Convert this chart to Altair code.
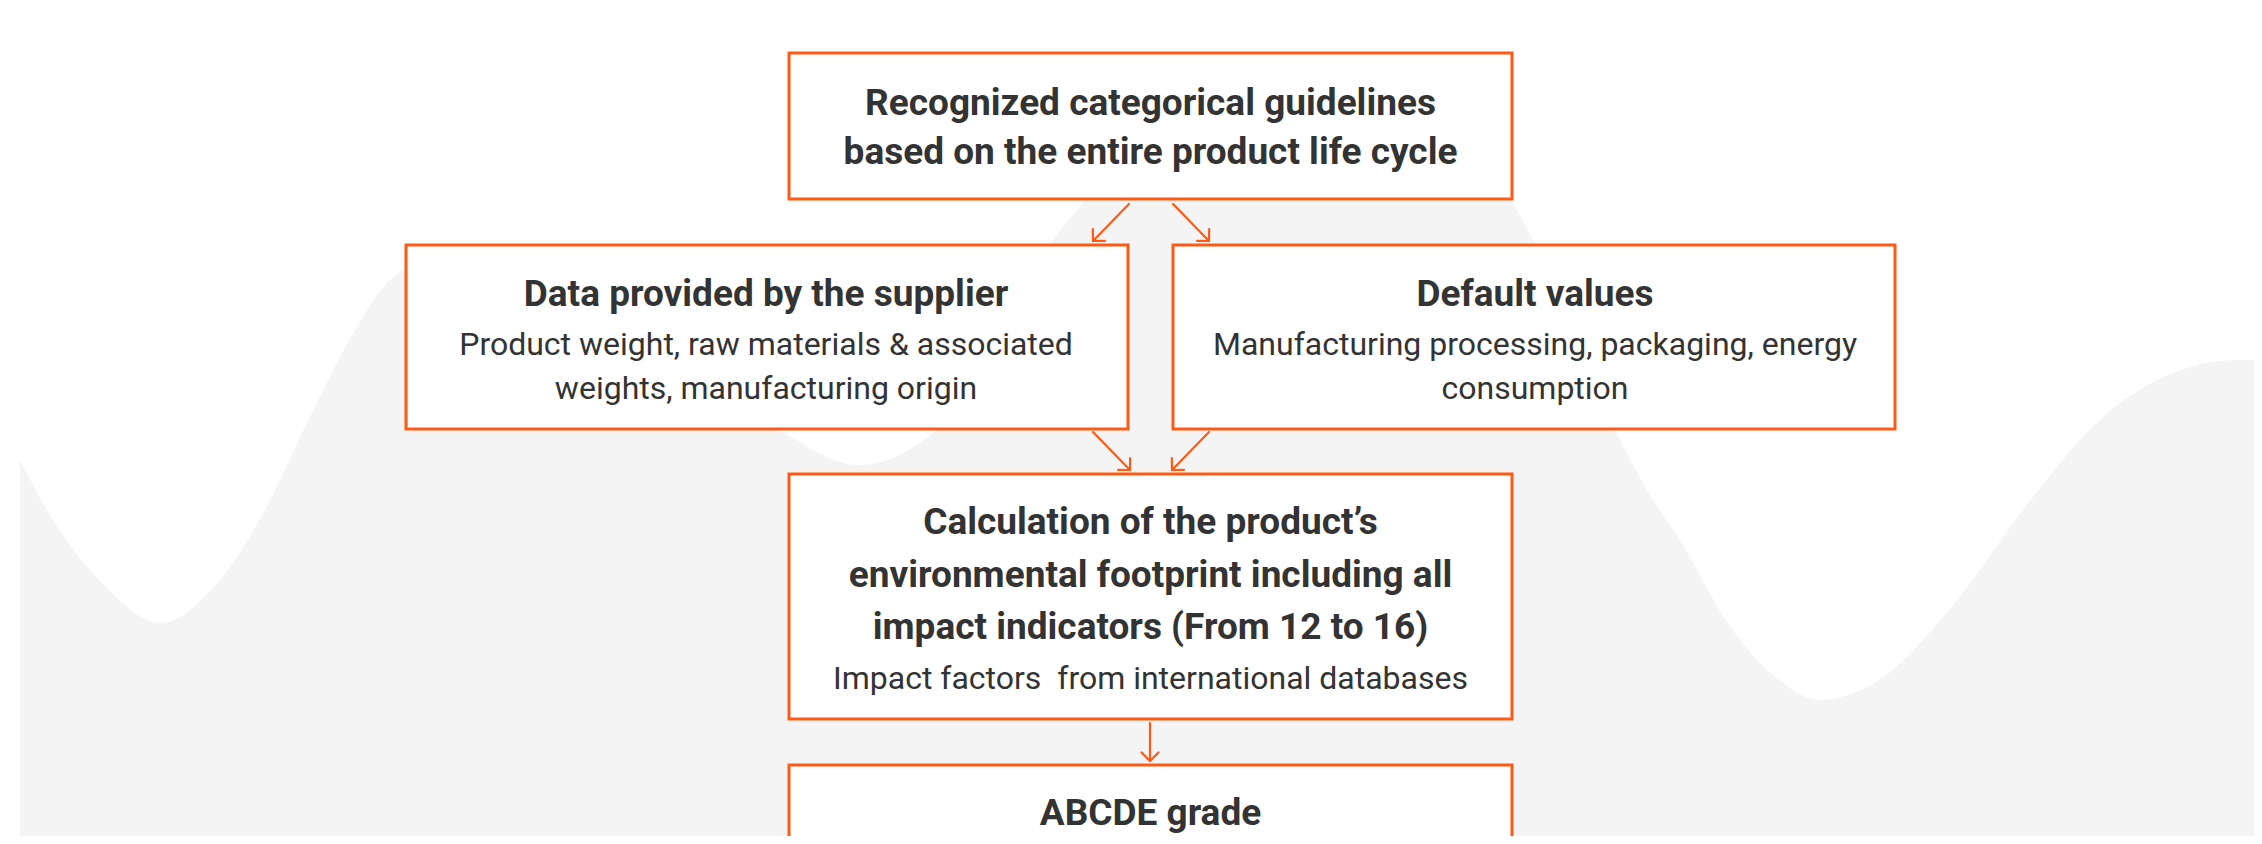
import math
import altair as alt
import pandas as pd

# ---- content ----
box_names = ["guidelines", "supplier", "defaults", "calculation", "grade"]
box_x1 = [789, 406, 1173, 789, 789]
box_x2 = [1512, 1128, 1895, 1512, 1512]
box_y1 = [53, 245, 245, 474, 765]
box_y2 = [199, 429, 429, 719, 900]

title_lines = [
    "Recognized categorical guidelines",
    "based on the entire product life cycle",
    "Data provided by the supplier",
    "Default values",
    "Calculation of the product\u2019s",
    "environmental footprint including all",
    "impact indicators (From 12 to 16)",
    "ABCDE grade",
]
title_x = [1150.5, 1150.5, 766, 1535, 1150.5, 1150.5, 1150.5, 1150.5]
title_y = [104, 153, 295, 295, 523, 576, 628, 814]

sub_lines = [
    "Product weight, raw materials & associated",
    "weights, manufacturing origin",
    "Manufacturing processing, packaging, energy",
    "consumption",
    "Impact factors \u00a0from international databases",
]
sub_x = [766, 766, 1535, 1535, 1150.5]
sub_y = [345, 389, 345, 389, 679]

# arrows: start -> tip
arrow_x1 = [1129, 1173, 1093, 1209, 1150]
arrow_y1 = [204, 204, 432, 432, 723]
arrow_x2 = [1093, 1209, 1130, 1172, 1150]
arrow_y2 = [241, 241, 470, 470, 761]

# background wave (white above, light grey below)
wave_x = [20, 51, 102, 161, 214, 265, 306, 347, 388, 430, 470, 540, 620, 700,
          779, 858, 938, 1000, 1051, 1084, 1130, 1200, 1298, 1400, 1470, 1512,
          1535, 1575, 1615, 1650, 1680, 1729, 1779, 1819, 1879, 1954, 2029,
          2103, 2178, 2238, 2262]
wave_y = [460, 517, 583, 623, 587, 510, 425, 344, 282, 258, 252, 268, 320, 378,
          430, 465, 428, 330, 243, 202, 150, 100, 75, 100, 150, 202,
          244, 337, 430, 495, 540, 625, 680, 700, 680, 604, 502,
          417, 371, 360, 360]
wave_base = [900] * len(wave_x)

ORANGE = "#FF5A14"
TEXT = "#333333"
GREY = "#F4F4F4"

W, H = 2246, 828
xs = alt.Scale(domain=[8, 8 + W], nice=False, zero=False)
ys = alt.Scale(domain=[8, 8 + H], nice=False, zero=False, reverse=True)

# ---- tables ----
wave = pd.DataFrame({"x": wave_x, "y": wave_y, "base": wave_base})
boxes = pd.DataFrame({"name": box_names, "x": box_x1, "x2": box_x2,
                      "y": box_y1, "y2": box_y2})
titles = pd.DataFrame({"t": title_lines, "x": title_x, "y": title_y})
subs = pd.DataFrame({"t": sub_lines, "x": sub_x, "y": sub_y})

segs = []
head = 12
for x1, y1, x2, y2 in zip(arrow_x1, arrow_y1, arrow_x2, arrow_y2):
    segs.append({"x": x1, "y": y1, "x2": x2, "y2": y2})
    L = math.hypot(x2 - x1, y2 - y1)
    bx, by = (x1 - x2) / L, (y1 - y2) / L
    for a in (math.pi / 4, -math.pi / 4):
        rx = bx * math.cos(a) - by * math.sin(a)
        ry = bx * math.sin(a) + by * math.cos(a)
        segs.append({"x": x2, "y": y2, "x2": x2 + rx * head, "y2": y2 + ry * head})
arrows = pd.DataFrame(segs)

# ---- layers ----
bg = alt.Chart(wave).mark_area(color=GREY, interpolate="monotone", clip=True).encode(
    x=alt.X("x:Q", scale=xs, axis=None),
    y=alt.Y("y:Q", scale=ys, axis=None),
    y2="base:Q",
)

arrow_layer = alt.Chart(arrows).mark_rule(color=ORANGE, strokeWidth=2.2, strokeCap="round").encode(
    x=alt.X("x:Q", scale=xs, axis=None),
    y=alt.Y("y:Q", scale=ys, axis=None),
    x2="x2:Q",
    y2="y2:Q",
)

box_layer = alt.Chart(boxes).mark_rect(fill="white", stroke=ORANGE, strokeWidth=3, clip=True).encode(
    x=alt.X("x:Q", scale=xs, axis=None),
    y=alt.Y("y:Q", scale=ys, axis=None),
    x2="x2:Q",
    y2="y2:Q",
)

title_layer = alt.Chart(titles).mark_text(
    font="Roboto", fontWeight="bold", fontSize=37, color=TEXT,
    align="center", baseline="middle",
).encode(
    x=alt.X("x:Q", scale=xs, axis=None),
    y=alt.Y("y:Q", scale=ys, axis=None),
    text="t:N",
)

sub_layer = alt.Chart(subs).mark_text(
    font="Roboto", fontWeight="normal", fontSize=32, color=TEXT,
    align="center", baseline="middle",
).encode(
    x=alt.X("x:Q", scale=xs, axis=None),
    y=alt.Y("y:Q", scale=ys, axis=None),
    text="t:N",
)

chart = alt.layer(bg, arrow_layer, box_layer, title_layer, sub_layer).properties(
    width=W, height=H, padding=0, autosize="none", background="white",
).configure_view(stroke=None)

chart.save("out.html", embed_options={"renderer": "svg", "actions": False})
